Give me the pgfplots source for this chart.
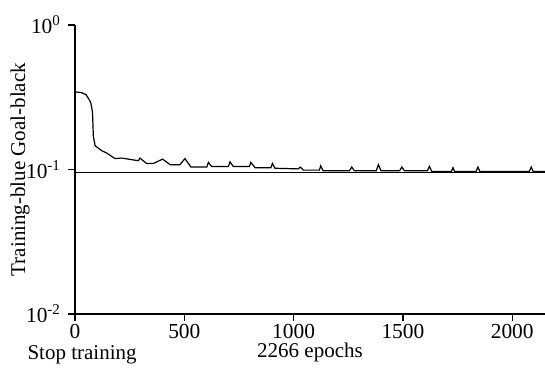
\documentclass[border=0pt]{standalone}
\usepackage{pgfplots}
\pgfplotsset{compat=1.18}
\usepackage{fontspec}
\setmainfont{Liberation Serif}
\begin{document}
\begin{tikzpicture}[x=1pt,y=1pt]
\path[use as bounding box] (-37.5,-28) rectangle (235,157);
\begin{axis}[
  at={(0,0)}, anchor=south west,
  scale only axis, width=235pt, height=144.5pt,
  ymode=log, xmin=0, xmax=2150, ymin=0.01, ymax=1,
  axis x line*=bottom, axis y line*=left,
  axis line style={line width=0.6pt},
  tick align=outside, major tick length=3.5pt,
  tick style={line width=0.6pt, black},
  xtick={0,500,1000,1500,2000},
  ytick={0.01,0.1,1}, yminorticks=false, xminorticks=false,
  yticklabels={10\textsuperscript{-2},10\textsuperscript{-1},10\textsuperscript{0}},
  /pgf/number format/assume math mode=true,
  /pgf/number format/1000 sep={},
  x tick label style={font=\fontsize{10.7}{12}\selectfont, inner ysep=1.5pt},
  y tick label style={font=\fontsize{10.7}{12}\selectfont},
  ylabel={Training-blue Goal-black},
  ylabel style={font=\fontsize{10.5}{12}\selectfont, at={(axis description cs:-0.117,0.5)}, anchor=center},
  xlabel={2266 epochs},
  xlabel style={font=\fontsize{10.5}{12}\selectfont, yshift=3pt},
  clip=false,
]
\addplot[black, line width=0.6pt] coordinates {(0,0.095) (2150,0.095)};
\addplot[black, line width=0.6pt] coordinates {
(0,0.345)(30,0.34)(50,0.33)(62,0.31)(72,0.29)(80,0.25)(84,0.17)(92,0.146)(122,0.135)(145,0.13)(183,0.119)(214,0.12)(290,0.115)(297,0.12)(328,0.11)(358,0.11)(401,0.118)(435,0.108)(480,0.108)(503,0.119)(530,0.104)(603,0.104)(610,0.112)(625,0.105)(702,0.105)(709,0.113)(724,0.105)(798,0.105)(804,0.112)(824,0.103)(896,0.103)(903,0.11)(915,0.102)(1022,0.101)(1030,0.104)(1045,0.099)(1118,0.099)(1124,0.106)(1135,0.098)(1255,0.098)(1266,0.104)(1278,0.098)(1378,0.098)(1388,0.108)(1400,0.098)(1485,0.098)(1495,0.104)(1507,0.098)(1612,0.098)(1621,0.105)(1632,0.097)(1722,0.097)(1729,0.103)(1736,0.097)(1835,0.097)(1843,0.104)(1852,0.097)(2078,0.097)(2087,0.104)(2096,0.097)(2150,0.097)
};
\node[font=\fontsize{10.5}{12}\selectfont, anchor=base, inner sep=0pt] at (rel axis cs:0.015,0) [yshift=-22.5pt] {Stop training};
\end{axis}
\end{tikzpicture}
\end{document}
